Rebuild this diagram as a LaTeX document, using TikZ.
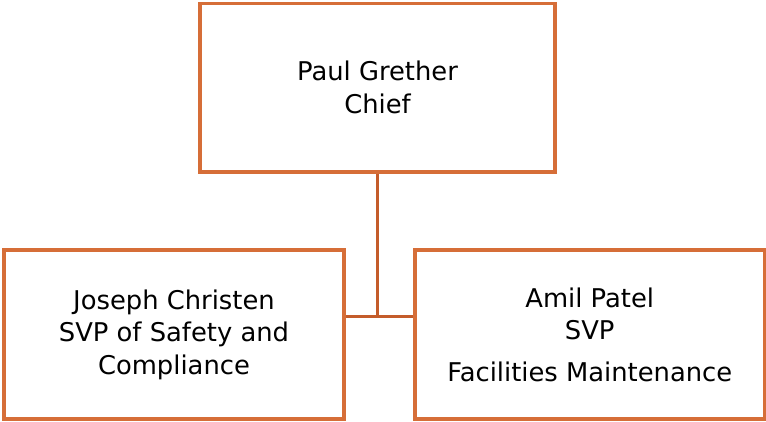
\documentclass[tikz,border=0pt]{standalone}
\usepackage{fontspec}
\setmainfont{DejaVu Sans}
\definecolor{boxor}{RGB}{214,110,56}
\definecolor{lineor}{RGB}{196,92,42}
\begin{document}
\begin{tikzpicture}[x=1pt,y=-1pt,
  person/.style={draw=boxor,line width=3.5pt,align=center,inner sep=0pt,font=\fontsize{25.8}{32.5}\selectfont},
  conn/.style={draw=lineor,line width=3pt}]
\useasboundingbox (0,0) rectangle (766,421);
\node[person,minimum width=355pt,minimum height=168.5pt] (top) at (377.5,87.5) {Paul Grether\\Chief};
\node[person,minimum width=340pt,minimum height=169pt] (left) at (174,334.5) {Joseph Christen\\SVP of Safety and\\Compliance};
\node[person,minimum width=349.5pt,minimum height=169pt] (right) at (589.75,334.5) {Amil Patel\\SVP\\[9pt]Facilities Maintenance};
\coordinate (j) at (377.5,316);
\draw[conn] (top.south) -- (j);
\draw[conn] (left.east |- j) -- (right.west |- j);
\end{tikzpicture}
\end{document}
